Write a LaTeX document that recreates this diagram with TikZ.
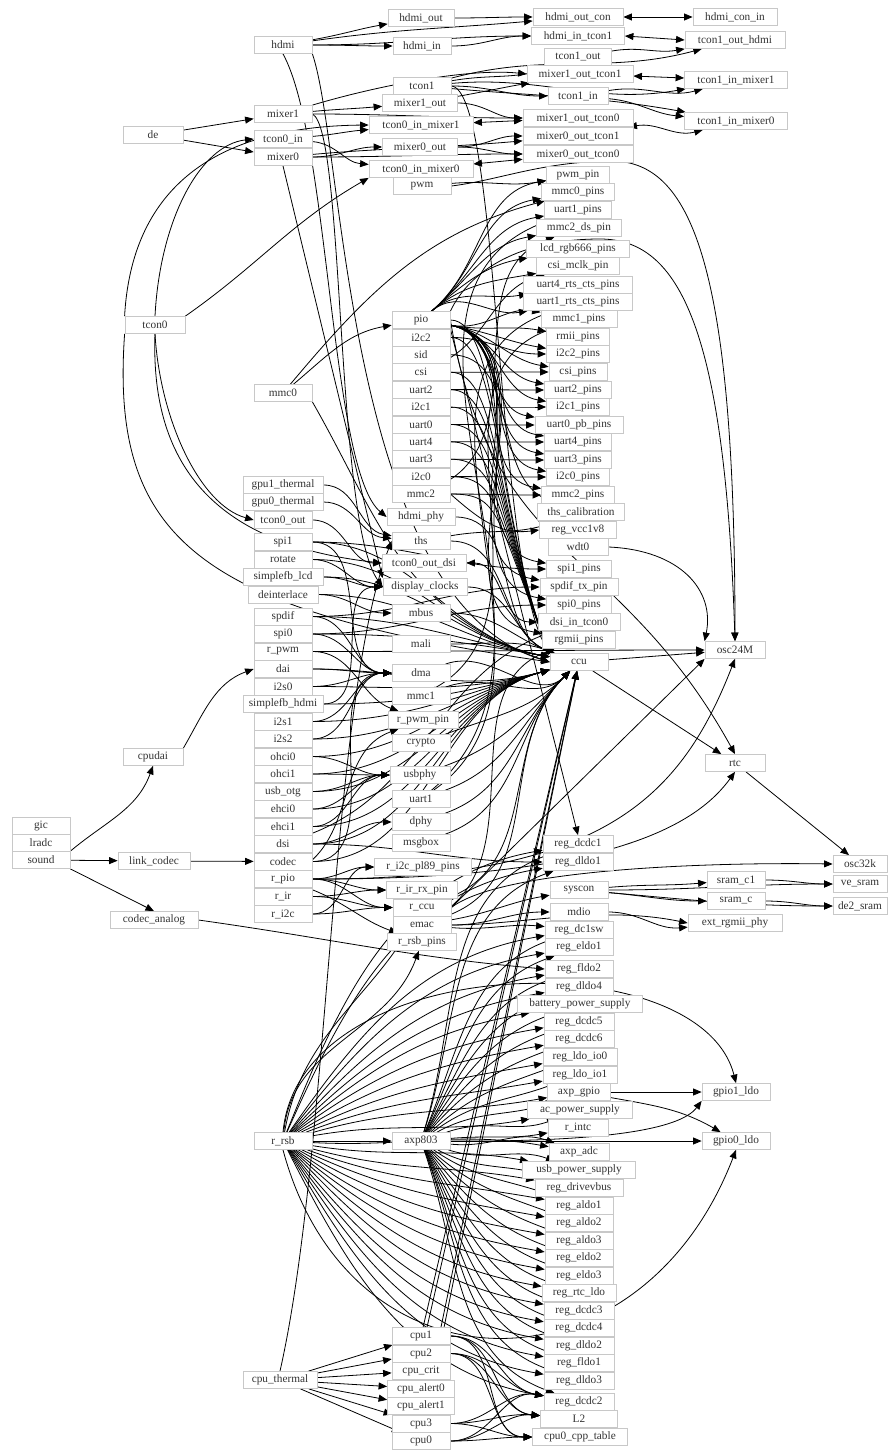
\documentclass[tikz,border=0pt]{standalone}
\usepackage{fontspec}
\setmainfont{Liberation Serif}
\usetikzlibrary{arrows.meta}
\definecolor{boxgray}{RGB}{200,200,200}
\pgfdeclarelayer{bg}
\pgfsetlayers{bg,main}
\newcommand\mkbox[5]{\node[box,minimum width=#4pt] (#1) at (#2,#3) {#5};}
\tikzset{
 box/.style={draw=boxgray,fill=white,line width=0.8pt,minimum height=17pt,inner sep=0pt,font=\fontsize{11.3}{12}\selectfont,text=black!80},
 e/.style={line width=0.8pt,-{Triangle[length=8.5pt,width=7pt]}},
 be/.style={line width=0.8pt,{Triangle[length=8.5pt,width=7pt]}-{Triangle[length=8.5pt,width=7pt]}},
}
\begin{document}
\begin{tikzpicture}[x=1pt,y=-1pt]
\useasboundingbox (0,0) rectangle (888,1450);
% ---------- column 1
\mkbox{gic}{41}{826}{58}{gic}
\mkbox{lradc}{41}{843}{58}{lradc}
\mkbox{sound}{41}{860}{58}{sound}
% ---------- column 2
\mkbox{de}{153}{135}{60}{de}
\mkbox{tcon0}{155}{325}{60}{tcon0}
\mkbox{cpudai}{153}{757}{60}{cpudai}
\mkbox{link_codec}{154}{861}{72}{link\_codec}
\mkbox{codec_analog}{154}{920}{88}{codec\_analog}
% ---------- column 3
\mkbox{hdmi}{283}{45}{58}{hdmi}
\mkbox{mixer1}{283}{114}{58}{mixer1}
\mkbox{tcon0_in}{283}{139}{58}{tcon0\_in}
\mkbox{mixer0}{283}{157}{58}{mixer0}
\mkbox{mmc0}{283}{393}{58}{mmc0}
\mkbox{gpu1_thermal}{283}{485}{80}{gpu1\_thermal}
\mkbox{gpu0_thermal}{283}{502}{80}{gpu0\_thermal}
\mkbox{tcon0_out}{283}{520}{58}{tcon0\_out}
\mkbox{spi1}{283}{542}{58}{spi1}
\mkbox{rotate}{283}{559.5}{58}{rotate}
\mkbox{simplefb_lcd}{283}{577}{80}{simplefb\_lcd}
\mkbox{deinterlace}{283}{594.5}{70}{deinterlace}
\mkbox{spdif}{283}{616.5}{58}{spdif}
\mkbox{spi0}{283}{634}{58}{spi0}
\mkbox{r_pwm}{283}{651.5}{58}{r\_pwm}
\mkbox{dai}{283}{669}{58}{dai}
\mkbox{i2s0}{283}{686.5}{58}{i2s0}
\mkbox{simplefb_hdmi}{283}{704}{80}{simplefb\_hdmi}
\mkbox{i2s1}{283}{721.5}{58}{i2s1}
\mkbox{i2s2}{283}{739}{58}{i2s2}
\mkbox{ohci0}{283}{756.5}{58}{ohci0}
\mkbox{ohci1}{283}{774}{58}{ohci1}
\mkbox{usb_otg}{283}{791.5}{58}{usb\_otg}
\mkbox{ehci0}{283}{809}{58}{ehci0}
\mkbox{ehci1}{283}{826.5}{58}{ehci1}
\mkbox{dsi}{283}{844}{58}{dsi}
\mkbox{codec}{283}{861.5}{58}{codec}
\mkbox{r_pio}{283}{879}{58}{r\_pio}
\mkbox{r_ir}{283}{896.5}{58}{r\_ir}
\mkbox{r_i2c}{283}{914}{58}{r\_i2c}
\mkbox{r_rsb}{283}{1141}{58}{r\_rsb}
\mkbox{cpu_thermal}{280}{1380}{74}{cpu\_thermal}
% ---------- column 4
\mkbox{hdmi_out}{421}{18}{66}{hdmi\_out}
\mkbox{hdmi_in}{422}{46}{58}{hdmi\_in}
\mkbox{tcon1}{422}{86}{58}{tcon1}
\mkbox{mixer1_out}{420}{103}{75}{mixer1\_out}
\mkbox{tcon0_in_mixer1}{421}{125}{104}{tcon0\_in\_mixer1}
\mkbox{mixer0_out}{420}{147}{75}{mixer0\_out}
\mkbox{tcon0_in_mixer0}{421}{169}{104}{tcon0\_in\_mixer0}
\mkbox{pwm}{422}{186}{58}{pwm}
\mkbox{pio}{421}{320}{58}{pio}
\mkbox{i2c2}{421}{337.4}{58}{i2c2}
\mkbox{sid}{421}{354.8}{58}{sid}
\mkbox{csi}{421}{372.2}{58}{csi}
\mkbox{uart2}{421}{389.6}{58}{uart2}
\mkbox{i2c1}{421}{407}{58}{i2c1}
\mkbox{uart0}{421}{424.4}{58}{uart0}
\mkbox{uart4}{421}{441.8}{58}{uart4}
\mkbox{uart3}{421}{459.2}{58}{uart3}
\mkbox{i2c0}{421}{476.6}{58}{i2c0}
\mkbox{mmc2}{421}{494}{58}{mmc2}
\mkbox{hdmi_phy}{421}{517}{68}{hdmi\_phy}
\mkbox{ths}{421}{541}{58}{ths}
\mkbox{tcon0_out_dsi}{424}{563}{84}{tcon0\_out\_dsi}
\mkbox{display_clocks}{425}{587}{84}{display\_clocks}
\mkbox{mbus}{421}{613}{58}{mbus}
\mkbox{mali}{421}{644}{58}{mali}
\mkbox{dma}{421}{673}{58}{dma}
\mkbox{mmc1}{421}{696}{58}{mmc1}
\mkbox{r_pwm_pin}{423}{720}{70}{r\_pwm\_pin}
\mkbox{crypto}{421}{743}{58}{crypto}
\mkbox{usbphy}{420}{775}{60}{usbphy}
\mkbox{uart1}{421}{799}{58}{uart1}
\mkbox{dphy}{421}{822}{58}{dphy}
\mkbox{msgbox}{421}{843}{58}{msgbox}
\mkbox{r_i2c_pl89_pins}{423}{867}{97}{r\_i2c\_pl89\_pins}
\mkbox{r_ir_rx_pin}{422}{890}{71}{r\_ir\_rx\_pin}
\mkbox{r_ccu}{422}{907.5}{58}{r\_ccu}
\mkbox{emac}{422}{925}{58}{emac}
\mkbox{r_rsb_pins}{422}{942}{69}{r\_rsb\_pins}
\mkbox{axp803}{421}{1141}{58}{axp803}
\mkbox{cpu1}{421}{1336}{58}{cpu1}
\mkbox{cpu2}{421}{1353.5}{58}{cpu2}
\mkbox{cpu_crit}{421}{1371}{58}{cpu\_crit}
\mkbox{cpu_alert0}{421}{1388.5}{67}{cpu\_alert0}
\mkbox{cpu_alert1}{421}{1406}{67}{cpu\_alert1}
\mkbox{cpu3}{421}{1423.5}{58}{cpu3}
\mkbox{cpu0}{421}{1441}{58}{cpu0}
% ---------- column 5
\mkbox{hdmi_out_con}{578}{17}{90}{hdmi\_out\_con}
\mkbox{hdmi_in_tcon1}{578}{36}{93}{hdmi\_in\_tcon1}
\mkbox{tcon1_out}{578}{57}{67}{tcon1\_out}
\mkbox{mixer1_out_tcon1}{580}{74}{106}{mixer1\_out\_tcon1}
\mkbox{tcon1_in}{578}{96}{60}{tcon1\_in}
\mkbox{mixer1_out_tcon0}{578}{118}{110}{mixer1\_out\_tcon0}
\mkbox{mixer0_out_tcon1}{578}{136}{110}{mixer0\_out\_tcon1}
\mkbox{mixer0_out_tcon0}{578}{154}{110}{mixer0\_out\_tcon0}
\mkbox{pwm_pin}{578}{175}{63}{pwm\_pin}
\mkbox{mmc0_pins}{578}{192}{73}{mmc0\_pins}
\mkbox{uart1_pins}{578}{210}{67}{uart1\_pins}
\mkbox{mmc2_ds_pin}{579}{228}{85}{mmc2\_ds\_pin}
\mkbox{lcd_rgb666_pins}{578}{249}{103}{lcd\_rgb666\_pins}
\mkbox{csi_mclk_pin}{578}{266}{83}{csi\_mclk\_pin}
\mkbox{uart4_rts_cts_pins}{578}{285}{109}{uart4\_rts\_cts\_pins}
\mkbox{uart1_rts_cts_pins}{578}{302}{109}{uart1\_rts\_cts\_pins}
\mkbox{mmc1_pins}{579}{319}{76}{mmc1\_pins}
\mkbox{rmii_pins}{578}{337}{63}{rmii\_pins}
\mkbox{i2c2_pins}{578}{354}{63}{i2c2\_pins}
\mkbox{csi_pins}{578}{372}{58}{csi\_pins}
\mkbox{uart2_pins}{578}{390}{67}{uart2\_pins}
\mkbox{i2c1_pins}{578}{407}{63}{i2c1\_pins}
\mkbox{uart0_pb_pins}{579}{425}{88}{uart0\_pb\_pins}
\mkbox{uart4_pins}{578}{442}{67}{uart4\_pins}
\mkbox{uart3_pins}{578}{460}{67}{uart3\_pins}
\mkbox{i2c0_pins}{578}{477}{63}{i2c0\_pins}
\mkbox{mmc2_pins}{578}{495}{73}{mmc2\_pins}
\mkbox{ths_calibration}{581}{512}{87}{ths\_calibration}
\mkbox{reg_vcc1v8}{578}{530}{77}{reg\_vcc1v8}
\mkbox{wdt0}{578}{547}{60}{wdt0}
\mkbox{spi1_pins}{579}{569}{65}{spi1\_pins}
\mkbox{spdif_tx_pin}{579}{587}{78}{spdif\_tx\_pin}
\mkbox{spi0_pins}{579}{605}{65}{spi0\_pins}
\mkbox{dsi_in_tcon0}{579}{622}{82}{dsi\_in\_tcon0}
\mkbox{rgmii_pins}{579}{640}{73}{rgmii\_pins}
\mkbox{ccu}{579}{662}{58}{ccu}
\mkbox{reg_dcdc1}{578}{844}{70}{reg\_dcdc1}
\mkbox{reg_dldo1}{578}{862}{70}{reg\_dldo1}
\mkbox{syscon}{579}{890}{58}{syscon}
\mkbox{mdio}{579}{912}{58}{mdio}
\mkbox{reg_dc1sw}{579}{929.5}{68}{reg\_dc1sw}
\mkbox{reg_eldo1}{579}{947}{68}{reg\_eldo1}
\mkbox{reg_fldo2}{579}{969}{68}{reg\_fldo2}
\mkbox{reg_dldo4}{579}{986.5}{68}{reg\_dldo4}
\mkbox{battery_power_supply}{580}{1004}{125}{battery\_power\_supply}
\mkbox{reg_dcdc5}{579}{1021.5}{70}{reg\_dcdc5}
\mkbox{reg_dcdc6}{579}{1039}{70}{reg\_dcdc6}
\mkbox{reg_ldo_io0}{580}{1057}{74}{reg\_ldo\_io0}
\mkbox{reg_ldo_io1}{580}{1074.5}{74}{reg\_ldo\_io1}
\mkbox{axp_gpio}{579}{1092}{63}{axp\_gpio}
\mkbox{ac_power_supply}{580}{1110}{105}{ac\_power\_supply}
\mkbox{r_intc}{578}{1127.5}{60}{r\_intc}
\mkbox{axp_adc}{579}{1152}{60}{axp\_adc}
\mkbox{usb_power_supply}{579}{1170}{113}{usb\_power\_supply}
\mkbox{reg_drivevbus}{579}{1188}{88}{reg\_drivevbus}
\mkbox{reg_aldo1}{579}{1205.5}{68}{reg\_aldo1}
\mkbox{reg_aldo2}{579}{1223}{68}{reg\_aldo2}
\mkbox{reg_aldo3}{579}{1240.5}{68}{reg\_aldo3}
\mkbox{reg_eldo2}{579}{1258}{68}{reg\_eldo2}
\mkbox{reg_eldo3}{579}{1275.5}{68}{reg\_eldo3}
\mkbox{reg_rtc_ldo}{579}{1293}{74}{reg\_rtc\_ldo}
\mkbox{reg_dcdc3}{579}{1310.5}{70}{reg\_dcdc3}
\mkbox{reg_dcdc4}{579}{1328}{70}{reg\_dcdc4}
\mkbox{reg_dldo2}{579}{1345.5}{70}{reg\_dldo2}
\mkbox{reg_fldo1}{579}{1363}{70}{reg\_fldo1}
\mkbox{reg_dldo3}{579}{1380.5}{70}{reg\_dldo3}
\mkbox{reg_dcdc2}{579}{1402}{70}{reg\_dcdc2}
\mkbox{L2}{579}{1419}{77}{L2}
\mkbox{cpu0_cpp_table}{580}{1437}{95}{cpu0\_cpp\_table}
% ---------- column 6
\mkbox{hdmi_con_in}{735}{17}{84}{hdmi\_con\_in}
\mkbox{tcon1_out_hdmi}{735}{40}{100}{tcon1\_out\_hdmi}
\mkbox{tcon1_in_mixer1}{736}{80}{103}{tcon1\_in\_mixer1}
\mkbox{tcon1_in_mixer0}{736}{121}{103}{tcon1\_in\_mixer0}
\mkbox{osc24M}{735}{650}{60}{osc24M}
\mkbox{rtc}{735}{763}{60}{rtc}
\mkbox{sram_c1}{736}{880}{58}{sram\_c1}
\mkbox{sram_c}{736}{901}{58}{sram\_c}
\mkbox{ext_rgmii_phy}{735}{923}{94}{ext\_rgmii\_phy}
\mkbox{gpio1_ldo}{736}{1092}{68}{gpio1\_ldo}
\mkbox{gpio0_ldo}{736}{1141}{68}{gpio0\_ldo}
% ---------- column 7
\mkbox{osc32k}{860}{864}{54}{osc32k}
\mkbox{ve_sram}{860}{884}{54}{ve\_sram}
\mkbox{de2_sram}{860}{906}{54}{de2\_sram}

\begin{pgfonlayer}{bg}
\fill[white] (0,0) rectangle (888,1450);
% sound
\draw[e] (sound.north east) to[out=40,in=-110] (cpudai.south);
\draw[e] (sound) -- (link_codec);
\draw[e] (sound.south east) -- (codec_analog.north);
\draw[e] (cpudai.north east) to[out=60,in=200] (dai.west);
\draw[e] (link_codec) -- (codec);
\draw[e] (codec_analog.east) to[out=-8,in=175] (reg_fldo2.west);
% de / tcon0
\draw[e] (de) -- (mixer1);
\draw[e] (de) -- (mixer0);
\draw[e] (tcon0.north) .. controls (160,220) and (200,145) .. (tcon0_in.west);
\draw[e] (tcon0.north west) .. controls (130,220) and (180,127) .. (tcon0_in_mixer1.west);
\draw[e] (tcon0.north east) to[out=35,in=210] (tcon0_in_mixer0.south west);
\draw[e] (tcon0.south) .. controls (160,420) and (200,505) .. (tcon0_out.west);
\draw[e] (tcon0.south) .. controls (150,470) and (220,545) .. (tcon0_out_dsi.west);
\draw[e] (tcon0.south west) .. controls (110,540) and (200,610) .. (ccu.west);
% hdmi
\draw[e] (hdmi) to[out=10,in=190] (hdmi_out);
\draw[e] (hdmi) to[out=0,in=180] (hdmi_in);
\draw[e] (hdmi) to[out=8,in=185] (hdmi_out_con);
\draw[e] (hdmi) to[out=0,in=180] (hdmi_in_tcon1);
\draw[e] (hdmi.south) .. controls (330,140) and (330,470) .. (hdmi_phy.west);
\draw[e] (hdmi.south east) .. controls (345,150) and (345,600) .. (ccu.west);
\draw[e] (hdmi_out) to[out=0,in=180] (hdmi_out_con);
\draw[e] (hdmi_in) to[out=0,in=180] (hdmi_in_tcon1);
\draw[be] (hdmi_out_con) -- (hdmi_con_in);
\draw[be] (hdmi_in_tcon1.east) -- (tcon1_out_hdmi.west);
% tcon1
\draw[e] (tcon1) to[out=10,in=200] (tcon1_out);
\draw[e] (tcon1) to[out=0,in=180] (tcon1_in);
\draw[e] (tcon1) to[out=5,in=190] (tcon1_in_mixer1);
\draw[e] (tcon1) to[out=-5,in=170] (tcon1_in_mixer0);
\draw[e] (tcon1) to[out=15,in=195] (tcon1_out_hdmi);
\draw[e] (tcon1.east) .. controls (500,90) and (495,560) .. (ccu.north west);
\draw[e] (tcon1_in) to[out=-5,in=175] (tcon1_in_mixer0);
\draw[e] (tcon1_in) to[out=10,in=195] (tcon1_in_mixer1);
\draw[e] (tcon1_out) to[out=10,in=190] (tcon1_out_hdmi);
\draw[be] (mixer1_out_tcon1) -- (tcon1_in_mixer1);
\draw[be] (mixer0_out_tcon1) to[out=10,in=195] (tcon1_in_mixer0);
% mixers
\draw[e] (mixer1) to[out=5,in=185] (mixer1_out);
\draw[e] (mixer1) to[out=0,in=180] (mixer1_out_tcon0);
\draw[e] (mixer1.north east) .. controls (380,85) and (470,68) .. (mixer1_out_tcon1.west);
\draw[e] (mixer1.east) .. controls (345,130) and (335,520) .. (display_clocks.west);
\draw[e] (mixer1_out) to[out=0,in=180] (mixer1_out_tcon0);
\draw[e] (mixer1_out) to[out=10,in=190] (mixer1_out_tcon1);
\draw[be] (tcon0_in_mixer1) -- (mixer1_out_tcon0);
\draw[e] (tcon0_in) to[out=5,in=185] (tcon0_in_mixer1);
\draw[e] (tcon0_in) to[out=-5,in=175] (tcon0_in_mixer0);
\draw[e] (mixer0) to[out=0,in=180] (mixer0_out);
\draw[e] (mixer0) to[out=0,in=180] (mixer0_out_tcon0);
\draw[e] (mixer0) to[out=5,in=185] (mixer0_out_tcon1);
\draw[e] (mixer0.south) -- (display_clocks.north west);
\draw[e] (mixer0_out) to[out=0,in=180] (mixer0_out_tcon0);
\draw[e] (mixer0_out) to[out=0,in=180] (mixer0_out_tcon1);
\draw[be] (tcon0_in_mixer0) -- (mixer0_out_tcon0);
% pwm
\draw[e] (pwm) to[out=5,in=190] (pwm_pin);
\draw[e] (pwm.east) .. controls (500,180) and (540,162) .. (610,161) .. controls (690,160) and (735,260) .. (osc24M.north);
% pio
\foreach \tg in {pwm_pin,mmc0_pins,uart1_pins,mmc2_ds_pin,lcd_rgb666_pins,csi_mclk_pin,uart4_rts_cts_pins,uart1_rts_cts_pins}
  {\draw[e] (pio) to[out=40,in=190] (\tg);}
\foreach \tg in {mmc1_pins,rmii_pins,i2c2_pins,csi_pins,uart2_pins,i2c1_pins,uart0_pb_pins,uart4_pins,uart3_pins,i2c0_pins,mmc2_pins,spi1_pins,spdif_tx_pin,spi0_pins,rgmii_pins}
  {\draw[e] (pio) to[out=-10,in=170] (\tg);}
\draw[e] (pio.north east) .. controls (470,270) and (520,239) .. (600,239) .. controls (680,239) and (725,330) .. (osc24M.north);
\draw[e] (pio.east) .. controls (490,560) and (620,545) .. (rtc.north);
\draw[e] (pio.south east) -- (reg_dcdc1.north);
% pio block peripherals
\draw[e] (i2c2) to[out=0,in=180] (i2c2_pins);
\draw[e] (sid) to[out=0,in=160] (ths_calibration);
\draw[e] (csi) to[out=0,in=180] (csi_pins);
\draw[e] (csi) to[out=25,in=195] (csi_mclk_pin);
\draw[e] (uart2) to[out=0,in=180] (uart2_pins);
\draw[e] (i2c1) to[out=0,in=180] (i2c1_pins);
\draw[e] (uart0) to[out=0,in=180] (uart0_pb_pins);
\draw[e] (uart4) to[out=0,in=180] (uart4_pins);
\draw[e] (uart3) to[out=0,in=180] (uart3_pins);
\draw[e] (i2c0) to[out=0,in=180] (i2c0_pins);
\draw[e] (mmc2) to[out=0,in=180] (mmc2_pins);
\draw[e] (mmc2) to[out=25,in=200] (mmc2_ds_pin);
\draw[e] (mmc2.east) .. controls (480,520) and (500,535) .. (reg_vcc1v8.west);
\foreach \s in {pio,i2c2,csi,uart2,i2c1,uart0,uart4,uart3,i2c0,mmc2}
  {\draw[e] (\s.east) .. controls +(50,0) and +(-55,-140) .. (ccu.north west);}
% mmc0
\draw[e] (mmc0) to[out=40,in=190] (pio);
\draw[e] (mmc0) to[out=50,in=195] (mmc0_pins);
\draw[e] (mmc0.south east) .. controls (380,520) and (400,610) .. (ccu.west);
% middle column
\draw[e] (ths) to[out=10,in=200] (ths_calibration);
\draw[e] (gpu1_thermal) to[out=0,in=170] (ths);
\draw[e] (gpu0_thermal) to[out=0,in=175] (ths);
\draw[e] (tcon0_out) to[out=0,in=180] (tcon0_out_dsi);
\draw[be] (tcon0_out_dsi) to[out=0,in=180] (dsi_in_tcon0);
\foreach \s in {hdmi_phy,ths,display_clocks,mbus,mali}
  {\draw[e] (\s) to[out=0,in=160] (ccu);}
\foreach \s in {dma,mmc1,crypto,usbphy,uart1,dphy,msgbox,emac,r_ccu}
  {\draw[e] (\s) to[out=20,in=225] (ccu);}
\foreach \s in {rotate,simplefb_lcd,deinterlace,spdif,spi0,spi1}
  {\draw[e] (\s) to[out=0,in=170] (ccu);}
\foreach \s in {dai,i2s0,simplefb_hdmi,i2s1,i2s2,ohci0,ohci1,usb_otg,ehci0,ehci1,dsi,codec}
  {\draw[e] (\s) to[out=0,in=195] (ccu);}
\foreach \s in {spi1,spdif,spi0,dai,i2s0,i2s1,i2s2,codec}
  {\draw[e] (\s) to[out=0,in=180] (dma);}
\foreach \s in {rotate,simplefb_lcd,simplefb_hdmi}
  {\draw[e] (\s) to[out=0,in=180] (display_clocks);}
\foreach \s in {ohci0,ohci1,usb_otg,ehci0,ehci1}
  {\draw[e] (\s) to[out=0,in=180] (usbphy);}
\draw[e] (deinterlace) to[out=0,in=180] (mbus);
\draw[e] (spi1) to[out=0,in=180] (spi1_pins);
\draw[e] (spdif) to[out=0,in=180] (spdif_tx_pin);
\draw[e] (spi0) to[out=0,in=180] (spi0_pins);
\draw[e] (mmc1) to[out=30,in=200] (mmc1_pins);
\draw[e] (uart1) to[out=40,in=200] (uart1_pins);
\draw[e] (uart1) to[out=35,in=200] (uart1_rts_cts_pins);
\draw[e] (dsi) to[out=0,in=180] (dphy);
\draw[e] (dsi) to[out=20,in=200] (dsi_in_tcon0);
\draw[e] (dsi) to[out=0,in=180] (reg_dldo1);
\draw[e] (r_pwm) to[out=0,in=160] (r_pwm_pin);
\draw[e] (r_pwm) to[out=0,in=180] (osc24M);
% r_pio group
\foreach \s in {r_pio,r_ir,r_i2c}
  {\draw[e] (\s) to[out=0,in=180] (r_ccu);}
\draw[e] (r_pio) to[out=0,in=180] (r_i2c_pl89_pins);
\draw[e] (r_pio) to[out=0,in=180] (r_ir_rx_pin);
\draw[e] (r_pio) to[out=-20,in=160] (r_rsb_pins);
\draw[e] (r_pio) to[out=30,in=200] (r_pwm_pin);
\draw[e] (r_ir) to[out=0,in=180] (r_ir_rx_pin);
\draw[e] (r_i2c) to[out=0,in=180] (r_i2c_pl89_pins);
\draw[e] (r_pio.east) .. controls (600,880) and (680,800) .. (osc24M.south);
\draw[e] (r_pio.east) .. controls (620,880) and (700,820) .. (rtc.south);
\draw[e] (r_ccu.east) -- (osc24M.south west);
\draw[e] (r_ccu.east) .. controls (500,870) and (700,862) .. (osc32k.west);
% emac / syscon
\draw[e] (emac) to[out=30,in=200] (rgmii_pins);
\draw[e] (emac) to[out=10,in=190] (syscon);
\draw[e] (emac) to[out=0,in=180] (mdio);
\draw[e] (emac) to[out=-5,in=175] (reg_dc1sw);
\draw[e] (emac.east) .. controls (520,925) and (600,905) .. (ext_rgmii_phy.west);
\draw[e] (syscon) to[out=5,in=185] (sram_c1);
\draw[e] (syscon) to[out=-5,in=180] (sram_c);
\draw[e] (syscon) to[out=0,in=180] (ve_sram);
\draw[e] (syscon) to[out=-5,in=180] (de2_sram);
\draw[e] (mdio) to[out=0,in=185] (ext_rgmii_phy);
\draw[e] (sram_c1) to[out=0,in=180] (ve_sram);
\draw[e] (sram_c) to[out=0,in=180] (de2_sram);
% clocks
\draw[e] (ccu) -- (osc24M);
\draw[e] (ccu) -- (rtc);
\draw[e] (rtc) -- (osc32k);
\draw[e] (wdt0.east) .. controls (680,550) and (715,590) .. (osc24M.north west);
% r_rsb / axp803
\draw[e] (r_rsb) -- (axp803);
\draw[e] (r_rsb) to[out=80,in=240] (r_ccu);
\draw[e] (r_rsb) to[out=85,in=250] (r_rsb_pins);
\foreach \tg/\ag in {reg_dcdc1/68,reg_dldo1/66,reg_dc1sw/55,reg_eldo1/52,reg_fldo2/48,reg_dldo4/44,battery_power_supply/40,reg_dcdc5/36,reg_dcdc6/31,reg_ldo_io0/26,reg_ldo_io1/21,axp_gpio/16,ac_power_supply/10}
  {\draw[e] (r_rsb) to[out=\ag,in=190] (\tg);}
\foreach \tg/\ag in {axp_adc/-3,usb_power_supply/-9,reg_drivevbus/-15,reg_aldo1/-20,reg_aldo2/-25,reg_aldo3/-30,reg_eldo2/-35,reg_eldo3/-39,reg_rtc_ldo/-43,reg_dcdc3/-47,reg_dcdc4/-51,reg_dldo2/-54,reg_fldo1/-57,reg_dldo3/-60,reg_dcdc2/-63}
  {\draw[e] (r_rsb) to[out=\ag,in=170] (\tg);}
\foreach \tg/\ag in {reg_dcdc1/73,reg_dldo1/72,reg_dc1sw/67,reg_eldo1/65,reg_fldo2/62,reg_dldo4/60,battery_power_supply/57,reg_dcdc5/53,reg_dcdc6/49,reg_ldo_io0/43,reg_ldo_io1/37,axp_gpio/29,ac_power_supply/19}
  {\draw[e] (axp803) to[out=\ag,in=200] (\tg);}
\foreach \tg/\ag in {axp_adc/-6,usb_power_supply/-18,reg_drivevbus/-28,reg_aldo1/-35,reg_aldo2/-42,reg_aldo3/-47,reg_eldo2/-52,reg_eldo3/-56,reg_rtc_ldo/-59,reg_dcdc3/-62,reg_dcdc4/-64,reg_dldo2/-66,reg_fldo1/-68,reg_dldo3/-69,reg_dcdc2/-71}
  {\draw[e] (axp803) to[out=\ag,in=160] (\tg);}
\draw[e] (axp803) to[out=5,in=190] (r_intc);
\draw[e] (axp803) -- (gpio0_ldo);
\draw[e] (axp803.east) .. controls (600,1142) and (680,1130) .. (gpio1_ldo.south west);
\draw[e] (axp_gpio) -- (gpio1_ldo);
\draw[e] (axp_gpio) to[out=-10,in=150] (gpio0_ldo);
\draw[e] (r_rsb.north) .. controls (300,950) and (700,940) .. (gpio1_ldo.north);
\draw[e] (r_rsb.south) .. controls (350,1400) and (640,1400) .. (gpio0_ldo.south);
% cpus
\foreach \tg in {cpu1,cpu2,cpu_crit,cpu_alert0,cpu_alert1,cpu3,cpu0}
  {\draw[e] (cpu_thermal) -- (\tg);}
\draw[e] (cpu_thermal.north) .. controls (330,1150) and (330,700) .. (ths.west);
\foreach \s in {cpu1,cpu2,cpu3,cpu0}
  {\draw[e] (\s) -- (ccu);
   \draw[e] (\s) to[out=0,in=170] (reg_dcdc2);
   \draw[e] (\s) to[out=0,in=175] (L2);
   \draw[e] (\s) to[out=0,in=180] (cpu0_cpp_table);}
\end{pgfonlayer}
\end{tikzpicture}
\end{document}
